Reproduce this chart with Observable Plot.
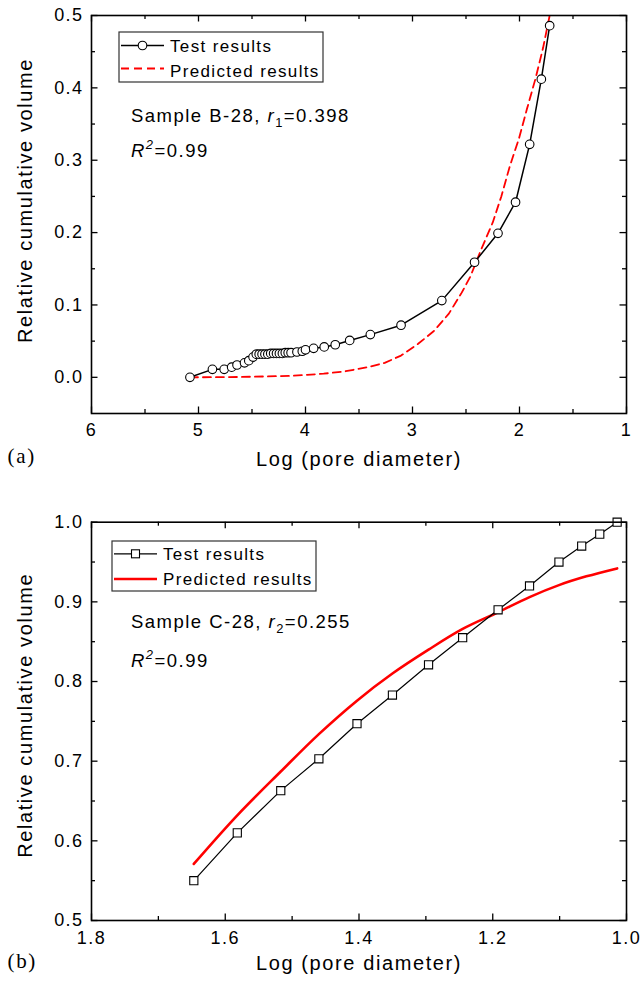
<!DOCTYPE html>
<html><head><meta charset="utf-8">
<script src="https://cdn.jsdelivr.net/npm/d3@7"></script>
<script src="https://cdn.jsdelivr.net/npm/@observablehq/plot@0.6"></script>
<style>
body{margin:0;background:#fff;}
#wrap{position:relative;width:643px;height:988px;background:#fff;}
#wrap svg{position:absolute;left:0;display:block;}
svg text{letter-spacing:0.08em;}
</style></head><body><div id="wrap"></div>
<script>
// ---------- Panel (a) data ----------
const aTestLogD = [5.08, 4.87, 4.76, 4.69, 4.64, 4.57, 4.53, 4.49, 4.46,
  4.433, 4.406, 4.379, 4.352, 4.325, 4.298, 4.271, 4.244, 4.216, 4.189, 4.162, 4.135,
  4.08, 4.03, 4.0, 3.924, 3.825, 3.722, 3.587, 3.394, 3.107, 2.726, 2.42, 2.201, 2.037, 1.905, 1.796, 1.718];
const aTestVol = [0.0, 0.011, 0.011, 0.014, 0.017, 0.020, 0.023, 0.028, 0.032,
  0.032, 0.032, 0.032, 0.032, 0.033, 0.033, 0.033, 0.033, 0.033, 0.034, 0.034, 0.034,
  0.035, 0.036, 0.038, 0.040, 0.042, 0.045, 0.051, 0.059, 0.072, 0.106, 0.159, 0.199, 0.242, 0.322, 0.412, 0.486];
const aPredLogD = [5.08, 4.6, 4.14, 3.83, 3.64, 3.42, 3.26, 3.107, 2.95, 2.8, 2.66, 2.54, 2.46, 2.36, 2.25, 2.17, 2.09, 2.005, 1.93, 1.85, 1.78, 1.718, 1.70];
const aPredVol  = [0.0, 0.0005, 0.002, 0.005, 0.008, 0.014, 0.020, 0.030, 0.046, 0.064, 0.088, 0.117, 0.139, 0.176, 0.214, 0.250, 0.292, 0.330, 0.371, 0.413, 0.455, 0.500, 0.514];
const aXTicks = [6, 5, 4, 3, 2, 1];
const aXMinor = [5.5, 4.5, 3.5, 2.5, 1.5];
const aYTicks = [0, 0.1, 0.2, 0.3, 0.4, 0.5];
const aYMinor = [0.05, 0.15, 0.25, 0.35, 0.45];

// ---------- Panel (b) data ----------
const bTestLogD = [1.647, 1.582, 1.517, 1.46, 1.403, 1.35, 1.296, 1.245, 1.192, 1.145, 1.101, 1.067, 1.04, 1.014];
const bTestVol  = [0.550, 0.610, 0.663, 0.703, 0.747, 0.783, 0.821, 0.855, 0.890, 0.920, 0.950, 0.970, 0.985, 1.000];
const bPredLogD = [1.647, 1.582, 1.517, 1.46, 1.403, 1.35, 1.296, 1.245, 1.192, 1.145, 1.101, 1.06, 1.014];
const bPredVol  = [0.571, 0.632, 0.687, 0.734, 0.776, 0.810, 0.840, 0.866, 0.887, 0.906, 0.921, 0.932, 0.942];
const bXTicks = [1.8, 1.6, 1.4, 1.2, 1.0];
const bXMinor = [1.7, 1.5, 1.3, 1.1];
const bYTicks = [0.5, 0.6, 0.7, 0.8, 0.9, 1.0];
const bYMinor = [0.55, 0.65, 0.75, 0.85, 0.95];

const FONT = "'Liberation Sans', Arial, Helvetica, sans-serif";
const W = 643;

function innerTicks(xDomain, yDomain, pw, ph, xs, ys, len, sw) {
  const vy = (yDomain[1] - yDomain[0]) / ph;
  const vx = (xDomain[1] - xDomain[0]) / pw;
  const st = {stroke: "black", strokeWidth: sw};
  return [
    Plot.ruleX(xs, {x: d => d, y1: () => yDomain[0], y2: () => yDomain[0] + len * vy, ...st}),
    Plot.ruleX(xs, {x: d => d, y1: () => yDomain[1], y2: () => yDomain[1] - len * vy, ...st}),
    Plot.ruleY(ys, {y: d => d, x1: () => xDomain[0], x2: () => xDomain[0] + len * vx, ...st}),
    Plot.ruleY(ys, {y: d => d, x1: () => xDomain[1], x2: () => xDomain[1] - len * vx, ...st})
  ];
}

function makePanel(cfg) {
  const {top, height, mt, mb, ml, mr, xDomain, yDomain, xTicks, xMinor, yTicks, yMinor,
         xFmt, yFmt, dataMarks, xLabelPad, xTitleDy, yTitleDy, panelLabel, panelDy} = cfg;
  const pw = W - ml - mr, ph = height - mt - mb;
  const svg = Plot.plot({
    width: W, height,
    marginTop: mt, marginBottom: mb, marginLeft: ml, marginRight: mr,
    x: {domain: xDomain},
    y: {domain: yDomain},
    style: {fontFamily: FONT, fontSize: "18px", color: "black", background: "white", overflow: "visible"},
    marks: [
      ...innerTicks(xDomain, yDomain, pw, ph, xTicks, yTicks, 6.5, 1.3),
      ...innerTicks(xDomain, yDomain, pw, ph, xMinor, yMinor, 4, 1.3),
      Plot.axisX(xTicks, {anchor: "bottom", tickSize: 0, tickPadding: xLabelPad, tickFormat: xFmt, fontSize: 18, label: null}),
      Plot.axisY(yTicks, {anchor: "left", tickSize: 0, tickPadding: 8, tickFormat: yFmt, fontSize: 18, label: null}),
      ...dataMarks,
      Plot.frame({stroke: "black", strokeWidth: 1.6}),
      Plot.text(["Log (pore diameter)"], {frameAnchor: "bottom", dy: xTitleDy, text: d => d, fontSize: 20}),
      Plot.text(["Relative cumulative volume"], {frameAnchor: "left", textAnchor: "middle", dx: -66, dy: yTitleDy, rotate: -90, text: d => d, fontSize: 20}),
      Plot.text([panelLabel], {frameAnchor: "bottom-left", dx: -84, dy: panelDy, textAnchor: "start", text: d => d,
                               fontSize: 21, fontFamily: "'Liberation Serif', 'Times New Roman', serif"})
    ]
  });
  svg.style.top = top + "px";
  document.getElementById("wrap").appendChild(svg);
  return svg;
}

function richText(svg, x, y, parts, size) {
  const t = d3.select(svg).append("text").attr("x", x).attr("y", y).attr("text-anchor", "start")
    .attr("font-size", size).attr("fill", "black").attr("font-family", FONT);
  for (const p of parts) {
    const ts = t.append("tspan").text(p.t);
    if (p.italic) ts.attr("font-style", "italic");
    if (p.sub) ts.attr("font-size", size * 0.7).attr("dy", 5);
    if (p.sup) ts.attr("font-size", size * 0.7).attr("dy", -8);
    if (p.back) ts.attr("dy", p.back);
  }
}

function legend(svg, box, rows) {
  const g = d3.select(svg).append("g").attr("text-anchor", "start");
  g.append("rect").attr("x", box.x).attr("y", box.y).attr("width", box.w).attr("height", box.h)
    .attr("fill", "white").attr("stroke", "#333").attr("stroke-width", 1.2);
  for (const r of rows) {
    g.append("line").attr("x1", r.x1).attr("x2", r.x2).attr("y1", r.ly).attr("y2", r.ly)
      .attr("stroke", r.color).attr("stroke-width", r.sw).attr("stroke-dasharray", r.dash || null);
    if (r.marker === "circle") g.append("circle").attr("cx", (r.x1 + r.x2) / 2).attr("cy", r.ly).attr("r", 4.3)
      .attr("fill", "white").attr("stroke", "black").attr("stroke-width", 1.1);
    if (r.marker === "square") g.append("rect").attr("x", (r.x1 + r.x2) / 2 - 4).attr("y", r.ly - 4).attr("width", 8).attr("height", 8)
      .attr("fill", "white").attr("stroke", "black").attr("stroke-width", 1.1);
    g.append("text").attr("x", r.tx).attr("y", r.ty).attr("text-anchor", "start").attr("font-size", 17)
      .attr("font-family", FONT).attr("fill", "black").text(r.label);
  }
}

// ---------- Panel (a) ----------
const aTest = aTestLogD.map((d, i) => ({x: d, y: aTestVol[i]}));
const aPred = aPredLogD.map((d, i) => ({x: d, y: aPredVol[i]}));
const svgA = makePanel({
  top: 0, height: 494, mt: 15, mb: 81, ml: 91, mr: 17,
  xDomain: [6, 1], yDomain: [-0.05, 0.5],
  xTicks: aXTicks, xMinor: aXMinor, yTicks: aYTicks, yMinor: aYMinor,
  xFmt: d3.format("d"), yFmt: d3.format(".1f"), xLabelPad: 10, xTitleDy: 52, yTitleDy: -14,
  panelLabel: "(a)", panelDy: 49,
  dataMarks: [
    Plot.line(aPred, {x: "x", y: "y", stroke: "#ff0000", strokeWidth: 1.8, strokeDasharray: "8,5", clip: true}),
    Plot.line(aTest, {x: "x", y: "y", stroke: "black", strokeWidth: 1.5}),
    Plot.dot(aTest, {x: "x", y: "y", r: 4.3, fill: "white", stroke: "black", strokeWidth: 1.1})
  ]
});
legend(svgA, {x: 119, y: 32, w: 204, h: 50}, [
  {x1: 121, x2: 164, ly: 45.5, color: "black", sw: 1.5, marker: "circle", tx: 170, ty: 51.5, label: "Test results"},
  {x1: 121, x2: 164, ly: 68.5, color: "#ff0000", sw: 1.8, dash: "8,5", tx: 170, ty: 76.5, label: "Predicted results"}
]);
richText(svgA, 131, 122, [{t: "Sample B-28, "}, {t: "r", italic: true}, {t: "1", sub: true}, {t: "=0.398", back: -5}], 18.5);
richText(svgA, 131, 157, [{t: "R", italic: true}, {t: "2", sup: true, italic: true}, {t: "=0.99", back: 8}], 18.5);

// ---------- Panel (b) ----------
const bTest = bTestLogD.map((d, i) => ({x: d, y: bTestVol[i]}));
const bPred = bPredLogD.map((d, i) => ({x: d, y: bPredVol[i]}));
const svgB = makePanel({
  top: 494, height: 494, mt: 27.7, mb: 68, ml: 91, mr: 17,
  xDomain: [1.8, 1.0], yDomain: [0.5, 1.0],
  xTicks: bXTicks, xMinor: bXMinor, yTicks: bYTicks, yMinor: bYMinor,
  xFmt: d3.format(".1f"), yFmt: d3.format(".1f"), xLabelPad: 11, xTitleDy: 49, yTitleDy: -6,
  panelLabel: "(b)", panelDy: 47,
  dataMarks: [
    Plot.line(bPred, {x: "x", y: "y", stroke: "#ff0000", strokeWidth: 2.6, curve: "catmull-rom"}),
    Plot.line(bTest, {x: "x", y: "y", stroke: "black", strokeWidth: 1.2}),
    Plot.dot(bTest, {x: "x", y: "y", r: 4.6, symbol: "square", fill: "white", stroke: "black", strokeWidth: 1.1})
  ]
});
legend(svgB, {x: 112, y: 47, w: 204, h: 50}, [
  {x1: 114, x2: 157, ly: 59.8, color: "black", sw: 1.2, marker: "square", tx: 163, ty: 66, label: "Test results"},
  {x1: 114, x2: 157, ly: 85, color: "#ff0000", sw: 2.6, tx: 163, ty: 91, label: "Predicted results"}
]);
richText(svgB, 131, 134, [{t: "Sample C-28, "}, {t: "r", italic: true}, {t: "2", sub: true}, {t: "=0.255", back: -5}], 18.5);
richText(svgB, 131, 172.6, [{t: "R", italic: true}, {t: "2", sup: true, italic: true}, {t: "=0.99", back: 8}], 18.5);
</script></body></html>
